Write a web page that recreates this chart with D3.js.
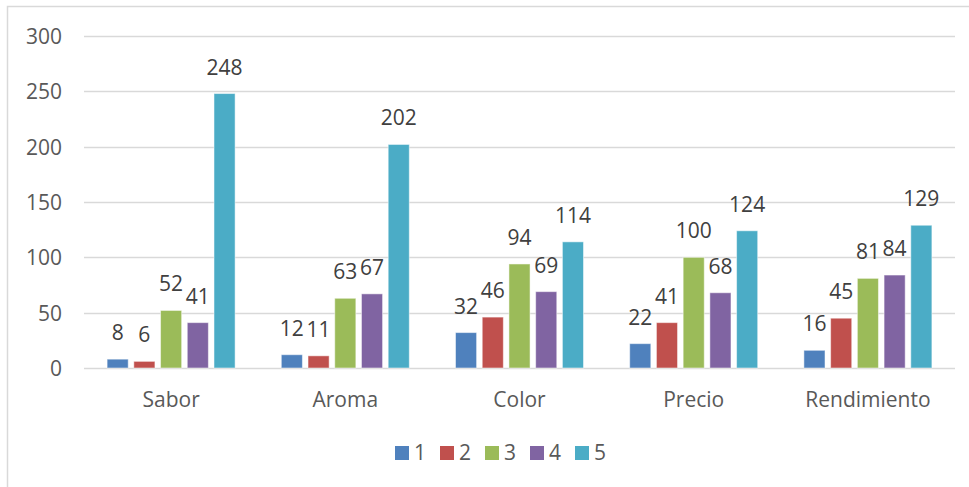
<!DOCTYPE html>
<html><head><meta charset="utf-8">
<script src="https://cdn.jsdelivr.net/npm/d3@7"></script>
<style>body{margin:0;background:#fff}svg{display:block}</style>
</head><body>
<script>
const categories = ["Sabor", "Aroma", "Color", "Precio", "Rendimiento"];
const seriesNames = ["1", "2", "3", "4", "5"];
const s1 = [8, 12, 32, 22, 16];
const s2 = [6, 11, 46, 41, 45];
const s3 = [52, 63, 94, 100, 81];
const s4 = [41, 67, 69, 68, 84];
const s5 = [248, 202, 114, 124, 129];
const yTicks = [0, 50, 100, 150, 200, 250, 300];
const colors = ["#4F81BD", "#C0504D", "#9BBB59", "#8064A2", "#4BACC6"];
const seriesValues = [s1, s2, s3, s4, s5];

const W = 969, H = 487;
const svg = d3.select("body").append("svg").attr("width", W).attr("height", H);
const font = "'Open Sans', sans-serif";
const txt = "#595959";
const fs = 21;

svg.append("rect").attr("x", 7.5).attr("y", 6.5).attr("width", 1100).attr("height", 1000)
  .attr("fill", "#fff").attr("stroke", "#d9d9d9").attr("stroke-width", 1.5);

const left = 84, right = 955;
const y = d3.scaleLinear().domain([0, 300]).range([368, 36]);
const x0 = d3.scaleBand().domain(categories).range([left, right]);
const bw = x0.bandwidth();
const x1 = d3.scaleBand().domain(seriesNames).range([(bw - 128) / 2, (bw + 128) / 2]).paddingInner(0.21);

// grid
svg.append("g").selectAll("line").data(yTicks).join("line")
  .attr("x1", left).attr("x2", right)
  .attr("y1", d => Math.round(y(d)) + 0.5).attr("y2", d => Math.round(y(d)) + 0.5)
  .attr("stroke", "#d9d9d9").attr("stroke-width", 1.5);

const yAxis = d3.axisLeft(y).tickValues(yTicks).tickSize(0).tickPadding(0);
const ga = svg.append("g").attr("transform", `translate(62,0)`).call(yAxis);
ga.select(".domain").remove();
ga.selectAll("text").attr("font-family", font).attr("font-size", fs).attr("fill", txt).attr("dy", "0.35em");

const xAxis = d3.axisBottom(x0).tickSize(0).tickPadding(0);
const gx = svg.append("g").attr("transform", `translate(0,407)`).call(xAxis);
gx.select(".domain").remove();
gx.selectAll("text").attr("font-family", font).attr("font-size", fs).attr("fill", txt).attr("y", 0).attr("dy", "0");

const groups = svg.append("g").selectAll("g").data(categories).join("g")
  .attr("transform", d => `translate(${x0(d)},0)`);

seriesNames.forEach((s, si) => {
  groups.append("rect")
    .attr("x", (d, i) => x1(s))
    .attr("y", (d, i) => y(seriesValues[si][i]))
    .attr("width", x1.bandwidth())
    .attr("height", (d, i) => y(0) - y(seriesValues[si][i]))
    .attr("fill", colors[si]).attr("stroke", "#ffffff").attr("stroke-opacity", 0.5).attr("stroke-width", 1);
  groups.append("text")
    .attr("x", (d, i) => x1(s) + x1.bandwidth() / 2)
    .attr("y", (d, i) => y(seriesValues[si][i]) - 19)
    .attr("text-anchor", "middle")
    .attr("font-family", font).attr("font-size", fs).attr("fill", "#404040")
    .text((d, i) => seriesValues[si][i]);
});

// legend
const lg = svg.append("g").selectAll("g").data(seriesNames).join("g")
  .attr("transform", (d, i) => `translate(${395 + i * 45},446)`);
lg.append("rect").attr("width", 14).attr("height", 14).attr("fill", (d, i) => colors[i]);
lg.append("text").attr("x", 19).attr("y", 7).attr("dy", "0.35em")
  .attr("font-family", font).attr("font-size", fs).attr("fill", txt).text(d => d);
</script>
</body></html>
